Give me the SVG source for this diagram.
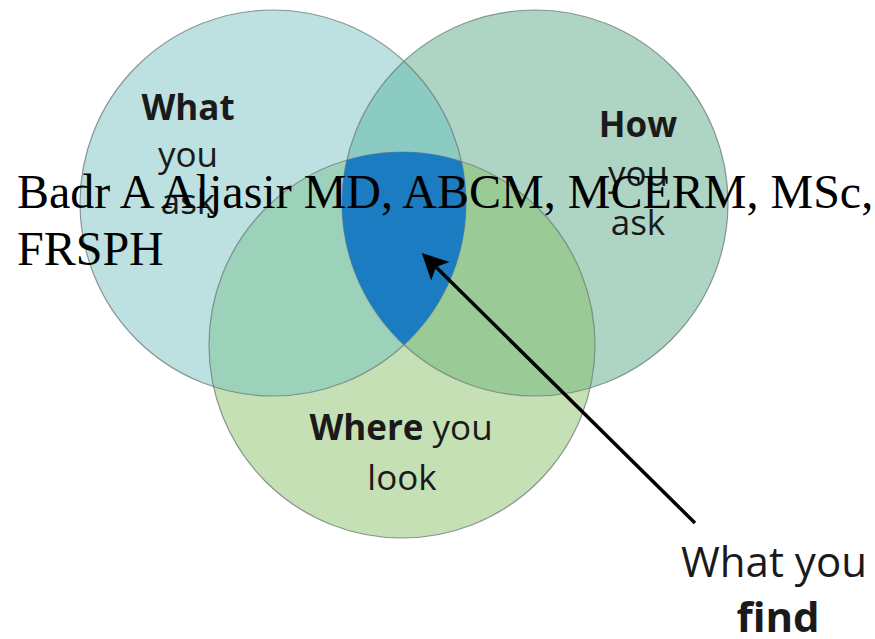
<svg xmlns="http://www.w3.org/2000/svg" width="875" height="639" viewBox="0 0 875 639">
  <style>
    .lbl { font-family: "Open Sans", "Noto Sans", "Liberation Sans", sans-serif; font-size: 35px; fill: #1a1a1a; text-anchor: middle; }
    .b { font-weight: bold; }
    .outline { fill: none; stroke: #6f7f7f; stroke-width: 1.2; stroke-opacity: 0.8; }
    .over { font-family: "Liberation Serif", "Times New Roman", serif; font-size: 48px; fill: #000; }
    .arrow { stroke: #000; stroke-width: 3.5; fill: none; }
  </style>
  <defs>
    <clipPath id="cL"><circle cx="273" cy="203" r="193"/></clipPath>
    <clipPath id="cR"><circle cx="535" cy="203" r="193"/></clipPath>
    <clipPath id="cB"><circle cx="402" cy="345" r="193"/></clipPath>
    <marker id="head" markerUnits="userSpaceOnUse" viewBox="-8 -15 30 30" refX="0" refY="0" markerWidth="30" markerHeight="30" orient="auto">
      <path d="M20,0 L-6,-13 L0,0 L-6,13 Z" fill="#000"/>
    </marker>
  </defs>
  <rect width="875" height="639" fill="#fff"/>

  <g id="circle-what">
    <circle cx="273" cy="203" r="193" fill="#bde0e0"/>
  </g>
  <g id="circle-how">
    <circle cx="535" cy="203" r="193" fill="#aed5c4"/>
  </g>
  <g id="circle-where">
    <circle cx="402" cy="345" r="193" fill="#c6e0b5"/>
  </g>

  <g id="overlaps">
    <circle cx="535" cy="203" r="193" fill="#8bcbc1" clip-path="url(#cL)"/>
    <circle cx="402" cy="345" r="193" fill="#9bd2b9" clip-path="url(#cL)"/>
    <circle cx="402" cy="345" r="193" fill="#9acb96" clip-path="url(#cR)"/>
  </g>

  <g id="outlines">
    <circle class="outline" cx="273" cy="203" r="193"/>
    <circle class="outline" cx="535" cy="203" r="193"/>
    <circle class="outline" cx="402" cy="345" r="193"/>
  </g>

  <g id="center">
    <g clip-path="url(#cR)">
      <circle cx="402" cy="345" r="193" fill="#1c7cc2" clip-path="url(#cL)"/>
    </g>
  </g>

  <g id="label-what">
    <text class="lbl b" x="188" y="120">What</text>
    <text class="lbl" x="188" y="167">you</text>
    <text class="lbl" x="188" y="214">ask</text>
  </g>
  <g id="label-how">
    <text class="lbl b" x="638" y="137">How</text>
    <text class="lbl" x="638" y="186">you</text>
    <text class="lbl" x="638" y="235">ask</text>
  </g>
  <g id="label-where">
    <text class="lbl" x="401" y="440"><tspan class="b">Where</tspan> you</text>
    <text class="lbl" x="402" y="490">look</text>
  </g>

  <g id="connectors">
    <line class="arrow" x1="695" y1="523" x2="436" y2="267" marker-end="url(#head)"/>
  </g>

  <g id="label-find">
    <text class="lbl" x="774" y="577" style="font-size:42px">What you</text>
    <text class="lbl b" x="778" y="632" style="font-size:42px">find</text>
  </g>

  <g id="overlay">
    <text class="over" x="17" y="208">Badr A Aljasir MD, ABCM, MCERM, MSc,</text>
    <text class="over" x="17" y="265">FRSPH</text>
  </g>
</svg>
